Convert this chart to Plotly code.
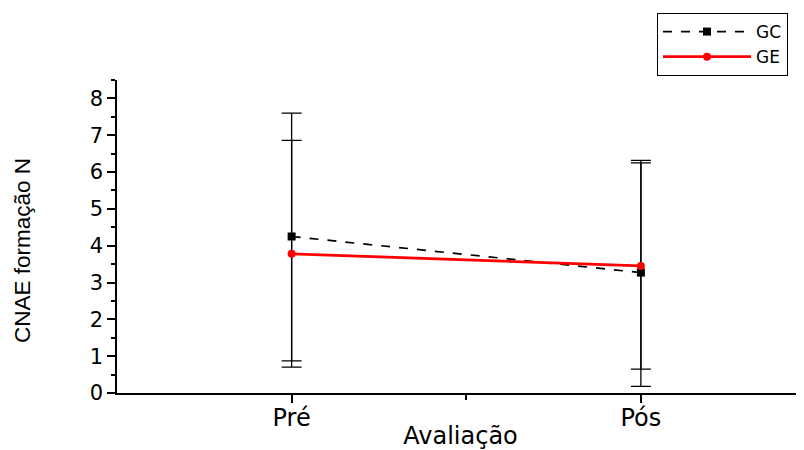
import plotly.graph_objects as go

categories = ["Pré", "Pós"]
gc_mean = [4.25, 3.27]
gc_upper = [7.60, 6.32]
gc_lower = [0.87, 0.18]
ge_mean = [3.78, 3.45]
ge_upper = [6.86, 6.25]
ge_lower = [0.70, 0.65]

xpos = list(range(len(categories)))
WIDE = "DejaVu Sans, Verdana, sans-serif"

fig = go.Figure()
fig.add_trace(go.Scatter(
    x=xpos, y=gc_mean, name="GC", mode="lines+markers",
    line=dict(color="black", width=1.7, dash="dash"),
    marker=dict(symbol="square", size=8, color="black"),
    error_y=dict(type="data", symmetric=False,
                 array=[u - m for u, m in zip(gc_upper, gc_mean)],
                 arrayminus=[m - l for l, m in zip(gc_lower, gc_mean)],
                 color="black", thickness=1.3, width=10),
))
fig.add_trace(go.Scatter(
    x=xpos, y=ge_mean, name="GE", mode="lines+markers",
    line=dict(color="red", width=2.8),
    marker=dict(symbol="circle", size=8, color="red"),
    error_y=dict(type="data", symmetric=False,
                 array=[u - m for u, m in zip(ge_upper, ge_mean)],
                 arrayminus=[m - l for l, m in zip(ge_lower, ge_mean)],
                 color="black", thickness=1.3, width=10),
))

fig.add_annotation(
    text="CNAE formação N", textangle=-90, showarrow=False,
    xref="paper", yref="paper", x=-0.1368, y=0.4537,
    xanchor="center", yanchor="middle",
    font=dict(size=22.5, family="Liberation Sans, Arial, sans-serif", color="black"),
)

fig.update_layout(
    width=796, height=442,
    margin=dict(l=109, r=0, t=72, b=57),
    plot_bgcolor="white", paper_bgcolor="white",
    font=dict(family=WIDE, color="black"),
    showlegend=True,
    legend=dict(x=0.9767, y=1.214, xanchor="right", yanchor="top",
                bordercolor="black", borderwidth=1, bgcolor="white",
                font=dict(size=17, family=WIDE), tracegroupgap=0, itemwidth=88),
    xaxis=dict(
        range=[-0.5, 1.467], tickmode="array", tickvals=xpos, ticktext=categories,
        showline=True, linecolor="black", linewidth=1.5, ticks="outside",
        ticklen=8, tickwidth=1.5, tickcolor="black", showgrid=False, zeroline=False,
        tickfont=dict(size=24, family=WIDE), automargin=False, ticklabelstandoff=-6,
        minor=dict(tickvals=[0.5], ticks="outside", ticklen=5, tickwidth=1.5, tickcolor="black"),
        title=dict(text="Avaliação", font=dict(size=24, family=WIDE), standoff=0),
    ),
    yaxis=dict(
        range=[0, 8.5], tickmode="linear", tick0=0, dtick=1,
        showline=True, linecolor="black", linewidth=1.5, ticks="outside",
        ticklen=8, tickwidth=1.5, tickcolor="black", showgrid=False, zeroline=False,
        tickfont=dict(size=21, family=WIDE), automargin=False,
        minor=dict(dtick=0.5, ticks="outside", ticklen=4, tickwidth=1.5, tickcolor="black"),
    ),
)

fig.write_html("out.html")
